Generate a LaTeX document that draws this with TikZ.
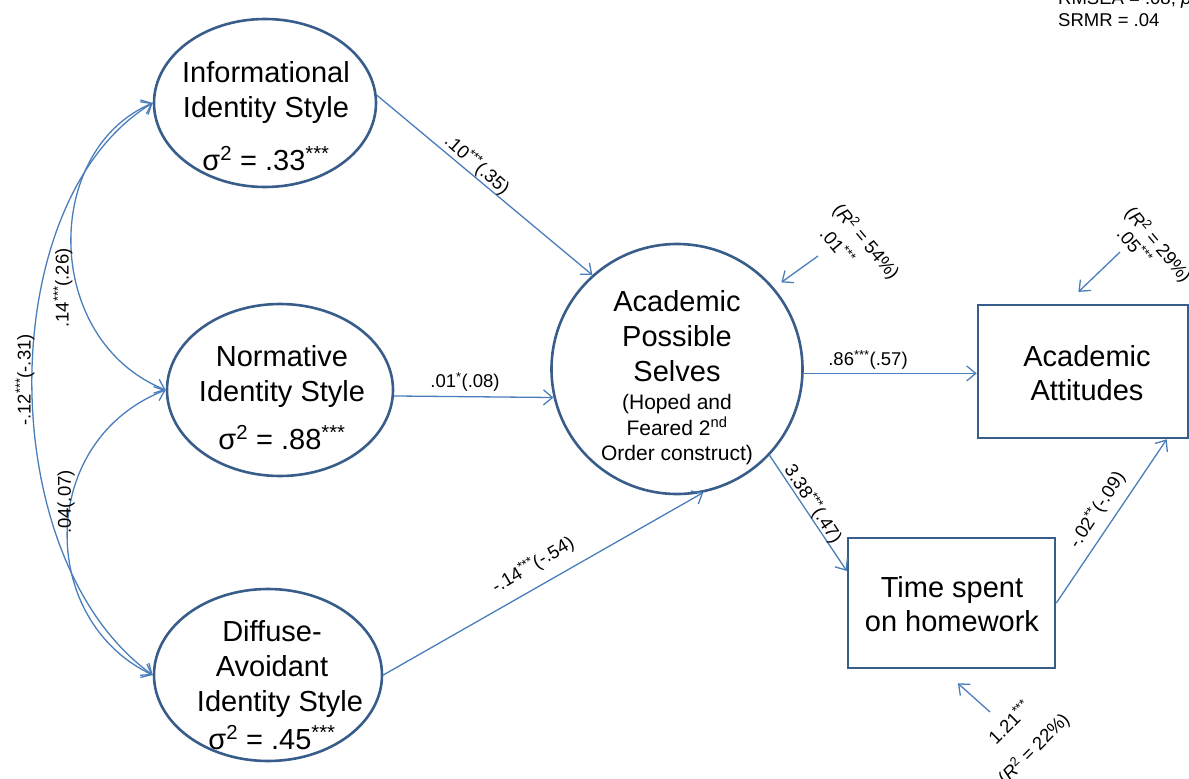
\documentclass[tikz,border=0pt]{standalone}
\usepackage{fontspec}
\setmainfont{Liberation Sans}
\usetikzlibrary{arrows.meta,shapes.geometric}
\definecolor{edgeblue}{HTML}{4A7EBB}
\definecolor{frameblue}{HTML}{385D8A}

\begin{document}
\begin{tikzpicture}[x=1pt,y=-1pt,
  latent/.style={ellipse, draw=frameblue, line width=2.6pt, inner sep=0pt},
  observed/.style={rectangle, draw=frameblue, line width=2.6pt, inner sep=0pt},
  caption/.style={font=\fontsize{29}{35}\selectfont, anchor=base, inner sep=0pt},
  subcaption/.style={font=\fontsize{21}{25}\selectfont, anchor=base, inner sep=0pt},
  coef/.style={font=\fontsize{18.5}{21}\selectfont, inner sep=0pt},
  effect/.style={draw=edgeblue, line width=1.3pt, -{Straight Barb[length=9pt,width=15pt]}},
  cov/.style={draw=edgeblue, line width=1.3pt,
    {Straight Barb[length=9pt,width=15pt]}-{Straight Barb[length=9pt,width=15pt]}},
]
\useasboundingbox (0,0) rectangle (1189,779);
\clip (0,0) rectangle (1189,779);

% latent variables
\node[latent, minimum width=222pt, minimum height=168pt] (info) at (265,103) {};
\node[latent, minimum width=226pt, minimum height=172pt] (norm) at (280,390) {};
\node[latent, minimum width=228pt, minimum height=172pt] (diff) at (268,675) {};
\node[latent, minimum width=251pt, minimum height=250pt] (aps) at (677,369) {};

% observed variables
\node[observed, minimum width=210pt, minimum height=133pt] (att) at (1083,371.5) {};
\node[observed, minimum width=207pt, minimum height=130pt] (time) at (951.5,603) {};

% captions
\node[caption] (infoA) at (266,82) {Informational};
\node[caption] (infoB) at (266,117) {Identity Style};
\node[caption] (infoC) at (266,170) {σ\textsuperscript{2} = .33\textsuperscript{***}};

\node[caption] (normA) at (282,366) {Normative};
\node[caption] (normB) at (282,401) {Identity Style};
\node[caption] (normC) at (282,449) {σ\textsuperscript{2} = .88\textsuperscript{***}};

\node[caption] (diffA) at (272,641) {Diffuse-};
\node[caption] (diffB) at (272,676) {Avoidant};
\node[caption] (diffC) at (280,711) {Identity Style};
\node[caption] (diffD) at (272,749) {σ\textsuperscript{2} = .45\textsuperscript{***}};

\node[caption] (apsA) at (677,311) {Academic};
\node[caption] (apsB) at (677,346) {Possible};
\node[caption] (apsC) at (677,381) {Selves};
\node[subcaption] (apsD) at (677,409) {(Hoped and};
\node[subcaption] (apsE) at (677,435) {Feared 2\textsuperscript{nd}};
\node[subcaption] (apsF) at (677,460) {Order construct)};

\node[caption] (attA) at (1087,366) {Academic};
\node[caption] (attB) at (1087,400) {Attitudes};

\node[caption] (timeA) at (952,597) {Time spent};
\node[caption] (timeB) at (952,631) {on homework};

% structural paths
\draw[effect] (info.4) -- (aps.132);
\draw[effect] (norm.-3) -- (aps.193);
\draw[effect] (diff.east) -- (aps.-78);
\draw[effect] (aps.-2) -- (aps.-2 -| att.west);
\draw[effect] (aps.-43) -- (time.163);
\draw[effect] (time.east) -- (att.-39);

% covariances
\draw[cov] (info.west) .. controls (42,150) and (42,340) .. (norm.west);
\draw[cov] (norm.west) .. controls (37,440) and (37,620) .. (diff.west);
\draw[cov] (info.west) .. controls (-8,200) and (-8,560) .. (diff.west);

% disturbances
\coordinate (dAps) at (818,256);
\coordinate (dAtt) at (1120,252);
\coordinate (dTime) at (990,712);
\draw[effect, shorten >=9pt] (dAps) -- (aps.40);
\draw[effect, shorten >=17pt] (dAtt) -- (att.104);
\draw[effect, shorten >=21pt] (dTime) -- (time.-98);

% coefficients
\node[coef, rotate=-41.5] (cInfo) at (477,165) {.10\textsuperscript{***}(.35)};
\node[coef] (cNorm) at (465,382) {.01\textsuperscript{*}(.08)};
\node[coef, rotate=30.5] (cDiff) at (533,565) {-.14\textsuperscript{***}(-.54)};
\node[coef] (cAtt) at (868,360) {.86\textsuperscript{***}(.57)};
\node[coef, rotate=-57] (cTime) at (813,504) {3.38\textsuperscript{***}(.47)};
\node[coef, rotate=57] (cHw) at (1097,510) {-.02\textsuperscript{**}(-.09)};

\node[coef, rotate=90] (cID) at (25,380) {-.12\textsuperscript{***}(-.31)};
\node[coef, rotate=90] (cIN) at (63,288) {.14\textsuperscript{***}(.26)};
\node[coef, rotate=90] (cND) at (66,502) {.04(.07)};

\node[coef, rotate=-50] (rAps) at (866,242) {(\textit{R}\textsuperscript{2} = 54\%)};
\node[coef, rotate=-50] (vAps) at (838,246) {.01\textsuperscript{***}};
\node[coef, rotate=-50] (rAtt) at (1158,245) {(\textit{R}\textsuperscript{2} = 29\%)};
\node[coef, rotate=-50] (vAtt) at (1135,246) {.05\textsuperscript{***}};
\node[coef, rotate=45] (vTime) at (1009,722) {1.21\textsuperscript{***}};
\node[coef, rotate=45] (rTime) at (1034,749) {(\textit{R}\textsuperscript{2} = 22\%)};

% fit indices
\node[coef, anchor=base west] (fitA) at (1058,5) {RMSEA = .08, \textit{p}};
\node[coef, anchor=base west] (fitB) at (1058,27) {SRMR = .04};
\end{tikzpicture}
\end{document}
